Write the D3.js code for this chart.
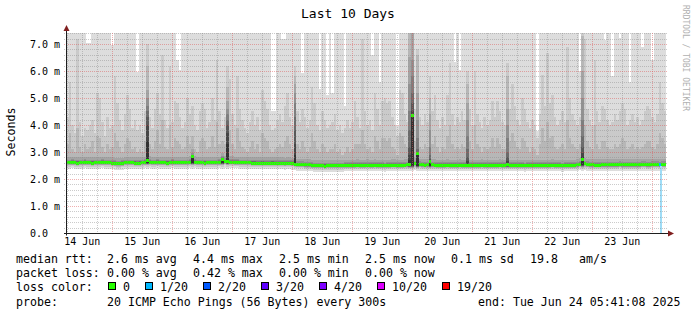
<!DOCTYPE html>
<html>
<head>
<meta charset="utf-8">
<script src="https://cdn.jsdelivr.net/npm/d3@7"></script>
<style>
  body { margin: 0; background: #fff; }
  svg { display: block; }
  text { font-family: "DejaVu Sans Mono", monospace; fill: #000; }
</style>
</head>
<body>
<div id="chart"></div>
<script>
// time window of the graph (10 days, hourly consolidated rows)
const startTime = new Date(2025, 5, 14, 5, 41, 8);
const endTime = new Date(2025, 5, 24, 5, 41, 8);

// median rtt per hour, ms
const medianRtt = [
  2.6,2.6,2.61,2.6,2.59,2.6,2.6,2.61,2.6,2.6,2.59,2.6,2.6,2.6,2.61,2.6,2.6,2.6,2.58,2.57,2.56,2.56,2.57,2.6,
  2.6,2.6,2.6,2.59,2.58,2.59,2.6,2.61,2.67,2.62,2.6,2.6,2.61,2.6,2.6,2.6,2.59,2.6,2.61,2.6,2.6,2.6,2.6,2.6,
  2.6,2.62,2.83,2.62,2.6,2.6,2.6,2.59,2.6,2.6,2.6,2.6,2.6,2.61,2.71,2.64,2.63,2.62,2.62,2.61,2.61,2.6,2.6,2.6,
  2.6,2.6,2.59,2.59,2.58,2.58,2.59,2.58,2.58,2.58,2.59,2.58,2.58,2.58,2.58,2.57,2.58,2.58,2.57,2.54,2.53,2.53,2.53,2.52,
  2.52,2.52,2.5,2.49,2.49,2.49,2.49,2.48,2.49,2.49,2.49,2.49,2.49,2.49,2.49,2.5,2.5,2.5,2.5,2.5,2.51,2.5,2.5,2.5,
  2.51,2.5,2.5,2.51,2.5,2.5,2.5,2.49,2.5,2.5,2.51,2.51,2.5,2.5,2.5,2.51,2.52,2.55,4.36,2.56,2.93,2.53,2.52,2.51,
  2.52,2.63,2.52,2.51,2.5,2.5,2.5,2.5,2.51,2.5,2.5,2.5,2.5,2.51,2.5,2.5,2.51,2.5,2.5,2.5,2.5,2.5,2.51,2.5,
  2.5,2.5,2.5,2.5,2.5,2.51,2.5,2.5,2.52,2.5,2.5,2.5,2.5,2.5,2.5,2.49,2.5,2.5,2.5,2.5,2.5,2.5,2.5,2.5,
  2.5,2.5,2.51,2.5,2.5,2.5,2.49,2.5,2.5,2.5,2.5,2.5,2.52,2.55,2.72,2.56,2.53,2.52,2.52,2.51,2.51,2.51,2.52,2.52,
  2.52,2.52,2.52,2.52,2.52,2.53,2.52,2.52,2.52,2.52,2.52,2.52,2.52,2.52,2.53,2.53,2.52,2.52,2.53,2.53,2.53,2.52,2.53,2.53
];

// 19th of 20 sorted pings per hour, ms
const ping19 = [
  4.3,5.6,4.0,3.7,7.2,4.1,3.6,3.9,3.8,4.0,4.2,3.7,5.2,5.0,4.1,3.6,4.3,3.9,4.0,5.8,4.8,4.2,3.8,4.4,
  5.1,4.6,3.9,4.2,3.8,4.0,3.7,4.5,7.0,4.3,3.9,4.6,5.2,4.4,6.6,4.2,3.9,6.2,4.1,4.9,4.8,4.3,3.9,4.1,
  5.0,4.4,4.7,4.0,3.8,4.5,4.8,4.6,3.9,4.1,5.0,4.2,6.4,4.5,3.9,4.3,6.2,5.7,4.4,4.0,5.8,4.6,4.2,3.9,
  3.7,4.1,4.5,4.0,4.3,3.8,5.3,4.9,4.6,4.0,3.8,3.9,4.2,4.4,4.1,4.7,5.2,4.3,4.0,6.2,4.5,4.1,4.6,4.3,
  3.9,4.2,5.4,4.8,4.0,3.8,4.5,4.2,3.9,4.0,4.1,4.4,3.8,4.0,3.7,3.9,4.2,3.9,4.1,4.9,4.3,3.9,7.2,4.5,
  4.0,4.2,3.8,5.2,4.6,4.0,4.9,5.0,4.8,4.9,4.3,4.0,3.6,5.3,5.2,4.4,4.1,7.5,7.5,4.6,6.8,4.3,4.0,4.4,
  4.1,5.8,4.5,5.1,4.2,3.9,4.3,4.0,5.1,6.3,4.4,4.0,4.3,4.1,4.5,4.2,6.0,4.6,4.0,6.0,4.4,4.1,3.9,4.3,
  4.0,4.2,4.9,4.3,4.9,4.5,4.1,4.0,6.3,4.6,5.5,4.7,4.2,4.0,5.0,4.6,4.1,3.9,4.2,4.0,3.5,4.4,5.85,4.7,
  6.65,4.8,5.1,4.3,4.0,4.2,4.5,4.1,6.9,5.0,4.4,4.2,4.0,4.3,7.5,7.2,4.6,4.2,4.0,6.4,4.5,4.1,4.7,4.6,
  4.2,4.0,4.1,4.4,4.2,4.5,4.8,4.6,4.0,4.2,4.4,4.1,4.3,4.0,4.2,4.5,4.7,4.6,4.3,4.1,4.4,5.6,4.8,4.5
];

// 18th of 20 sorted pings per hour, ms
const ping18 = [
  3.3,3.7,3.1,3.0,3.9,3.2,3.0,3.3,3.1,3.2,3.4,3.0,3.6,3.5,3.2,3.0,3.3,3.1,3.2,3.7,3.4,3.2,3.0,3.3,
  3.5,3.4,3.1,3.2,3.0,3.1,3.0,3.4,6.2,3.3,3.1,3.4,3.8,3.3,4.2,3.2,3.1,4.0,3.2,3.5,3.4,3.3,3.1,3.2,
  3.6,3.3,3.6,3.1,3.0,3.4,3.5,3.4,3.1,3.2,3.6,3.2,4.1,3.3,3.4,3.3,5.4,3.8,3.3,3.1,3.9,3.4,3.2,3.1,
  3.0,3.2,3.4,3.1,3.3,3.0,3.7,3.5,3.4,3.1,3.0,3.1,3.2,3.3,3.2,3.4,3.6,3.3,3.1,5.8,3.3,3.1,3.4,3.2,
  3.0,3.2,3.7,3.4,3.1,3.0,3.3,3.2,3.0,3.1,3.1,3.3,3.0,3.1,2.9,3.0,3.2,3.0,3.1,3.3,3.3,3.3,3.8,3.3,
  3.1,3.2,3.0,3.6,3.4,3.1,3.5,3.5,3.4,3.5,3.2,3.1,2.9,3.7,3.6,3.3,3.2,7.5,7.5,3.4,6.6,3.2,3.1,3.3,
  3.2,5.0,3.3,3.6,3.2,3.0,3.2,3.1,3.6,4.0,3.3,3.1,3.2,3.1,3.3,3.2,5.5,3.4,3.1,4.0,3.3,3.2,3.0,3.2,
  3.1,3.2,3.5,3.2,3.5,3.3,3.1,3.1,5.8,3.4,3.7,3.4,3.2,3.1,3.5,3.4,3.2,3.0,3.2,3.1,2.9,3.3,3.9,3.4,
  4.1,3.5,3.6,3.2,3.1,3.2,3.3,3.1,4.2,3.5,3.3,3.2,3.1,3.3,7.3,4.0,3.4,3.2,3.1,4.0,3.3,3.1,3.4,3.4,
  3.2,3.1,3.1,3.3,3.2,3.3,3.5,3.4,3.1,3.2,3.3,3.1,3.2,3.1,3.2,3.3,3.4,3.4,3.2,3.1,3.3,3.7,3.5,3.3
];

// hours where the slowest ping stayed below the top of the scale (else off scale)
const maxGapHours = [8, 9, 18, 28, 44, 45, 82, 83, 86, 87, 94, 101, 104, 106, 111, 122, 125, 132, 155, 157, 188, 205, 215, 218, 221, 225, 230, 234];
const maxGapTops  = [7.05, 7.05, 6.96, 5.97, 6.4, 6.04, 4.5, 4.5, 7.2, 7.2, 5.92, 5.35, 5.1, 5.2, 4.7, 6.6, 5.6, 3.95, 6.35, 6.05, 3.77, 6.0, 7.15, 5.8, 7.22, 5.6, 6.9, 6.4];
const offScale = 8;

// inner pings (17th..11th) above the median, and pings 1..10 below it, ms
const innerAbove = [0.22, 0.12, 0.08, 0.06, 0.04, 0.03, 0.02];
const belowBase = [0.22, 0.14, 0.1, 0.08, 0.06, 0.05, 0.04, 0.03, 0.02, 0.01];

// hours with a burst of slow pings: inner pings 17th..11th
const spikeHours = [32, 50, 62, 64, 91, 137, 138, 140, 145, 160, 176, 206];
const spikeBase  = [2.6, 2.6, 2.6, 2.6, 2.55, 2.5, 2.5, 2.5, 2.5, 2.5, 2.5, 2.52];
const spikeTops = [
  [5.3, 5.0, 4.7, 4.5, 4.3, 4.0, 3.4],
  [3.1, 2.95, 2.9, 2.88, 2.86, 2.85, 2.84],
  [2.95, 2.85, 2.8, 2.78, 2.76, 2.74, 2.72],
  [4.9, 4.6, 4.4, 4.2, 4.0, 3.7, 3.3],
  [5.5, 5.2, 4.8, 4.3, 3.8, 3.3, 2.9],
  [6.5, 5.5, 4.5, 3.8, 3.2, 2.9, 2.7],
  [7.5, 6.4, 5.8, 5.2, 4.8, 4.5, 4.4],
  [5.2, 4.2, 3.5, 3.1, 3.0, 2.97, 2.95],
  [4.4, 3.8, 3.2, 2.9, 2.75, 2.68, 2.64],
  [4.8, 4.2, 3.6, 3.1, 2.8, 2.65, 2.55],
  [4.6, 4.0, 3.5, 3.0, 2.8, 2.65, 2.55],
  [6.0, 5.0, 4.2, 3.6, 3.2, 2.95, 2.8]
];

// packet loss
const lossHours = [237];
const lossIndex = [1];

// smoke greys, outer to inner band
const smokeGreys = [221, 202, 183, 164, 145, 126, 107, 88, 69, 50];

// axes
const yTicks = [0, 1, 2, 3, 4, 5, 6, 7];
const yTickLabels = ["0.0", "1.0 m", "2.0 m", "3.0 m", "4.0 m", "5.0 m", "6.0 m", "7.0 m"];
const xTickDays = ["14 Jun", "15 Jun", "16 Jun", "17 Jun", "18 Jun", "19 Jun", "20 Jun", "21 Jun", "22 Jun", "23 Jun"];

// legend
const rowLabels = ["median rtt:", "packet loss:", "loss color:", "probe:"];
const rttStats = ["2.6 ms avg", "4.4 ms max", "2.5 ms min", "2.5 ms now", "0.1 ms sd"];
const rttExtra = ["19.8", "am/s"];
const lossStats = ["0.00 % avg", "0.42 % max", "0.00 % min", "0.00 % now"];
const lossLevels = ["0", "1/20", "2/20", "3/20", "4/20", "10/20", "19/20"];
const lossColors = ["#26ff00", "#00b8ff", "#0059ff", "#5e00ff", "#7e00ff", "#dd00ff", "#ff0000"];
const probeText = "20 ICMP Echo Pings (56 Bytes) every 300s";
const endText = "end: Tue Jun 24 05:41:08 2025";

const W = 697, H = 315;
const plot = { left: 66, top: 33, width: 600, height: 200 };

const svg = d3.select("#chart").append("svg")
  .attr("width", W).attr("height", H);

svg.append("rect").attr("width", W).attr("height", H).attr("fill", "#fff");

const x = d3.scaleTime()
  .domain([startTime, endTime])
  .range([plot.left, plot.left + plot.width]);

const y = d3.scaleLinear()
  .domain([0, 7.407])
  .range([plot.top + plot.height, plot.top]);

svg.append("clipPath").attr("id", "plotclip")
  .append("rect")
  .attr("x", plot.left).attr("y", plot.top)
  .attr("width", plot.width).attr("height", plot.height);

// build per hour columns
const cols = medianRtt.map((m, i) => {
  const k = spikeHours.indexOf(i);
  const g = maxGapHours.indexOf(i);
  const base = k >= 0 ? spikeBase[k] : m;
  const inner = k >= 0 ? spikeTops[k] : innerAbove.map(d => m + d);
  return {
    i, m, base,
    x0: Math.round(x(d3.timeHour.offset(startTime, i))),
    x1: Math.round(x(d3.timeHour.offset(startTime, i + 1))),
    tops: [g >= 0 ? maxGapTops[g] : offScale, ping19[i], ping18[i], ...inner]
  };
});

const smoke = svg.append("g")
  .attr("clip-path", "url(#plotclip)")
  .attr("shape-rendering", "crispEdges");

smokeGreys.forEach((grey, b) => {
  smoke.append("g")
    .attr("fill", `rgb(${grey},${grey},${grey})`)
    .selectAll("rect")
    .data(cols)
    .join("rect")
    .attr("x", d => d.x0)
    .attr("width", d => d.x1 - d.x0)
    .attr("y", d => Math.round(y(d.tops[b])))
    .attr("height", d => Math.max(0, Math.round(y(d.base - belowBase[b])) - Math.round(y(d.tops[b]))));
});

// loss bar
smoke.selectAll(".lossbar")
  .data(lossHours)
  .join("rect")
  .attr("class", "lossbar")
  .attr("x", d => cols[d].x0 + 1)
  .attr("width", 2)
  .attr("y", d => Math.round(y(cols[d].m)))
  .attr("height", d => Math.round(y(0)) - Math.round(y(cols[d].m)))
  .attr("fill", "#9edcf6");

// median line coloured by loss
smoke.append("g")
  .selectAll("rect")
  .data(cols)
  .join("rect")
  .attr("x", d => d.x0)
  .attr("width", d => d.x1 - d.x0)
  .attr("y", d => Math.round(y(d.m) - 1.5))
  .attr("height", 3)
  .attr("fill", d => {
    const k = lossHours.indexOf(d.i);
    return lossColors[k >= 0 ? lossIndex[k] : 0];
  });

// grid on top
const grid = svg.append("g")
  .attr("stroke-dasharray", "1,1")
  .attr("stroke-width", 1)
  .attr("shape-rendering", "crispEdges");
const yMinor = d3.range(1, 38).filter(d => d % 5 !== 0).map(d => d / 5);
const hy = d => Math.round(y(d)) + 0.5;
const vx = d => Math.round(x(d)) + 0.5;
const minorCol = "rgba(140,140,140,0.45)";
const majorCol = "rgba(222,79,79,0.45)";

grid.selectAll(".hmin").data(yMinor).join("line")
  .attr("x1", plot.left - 2).attr("x2", plot.left + plot.width + 2)
  .attr("y1", hy).attr("y2", hy)
  .attr("stroke", minorCol);

const sixHours = d3.timeHour.every(6).range(startTime, endTime).filter(d => d.getHours() !== 0);
grid.selectAll(".vmin").data(sixHours).join("line")
  .attr("x1", vx).attr("x2", vx)
  .attr("y1", plot.top).attr("y2", plot.top + plot.height + 2)
  .attr("stroke", minorCol);

grid.selectAll(".hmaj").data(yTicks.slice(1)).join("line")
  .attr("x1", plot.left - 2).attr("x2", plot.left + plot.width + 2)
  .attr("y1", hy).attr("y2", hy)
  .attr("stroke", majorCol);

const midnights = d3.timeDay.range(startTime, endTime);
grid.selectAll(".vmaj").data(midnights).join("line")
  .attr("x1", vx).attr("x2", vx)
  .attr("y1", plot.top).attr("y2", plot.top + plot.height + 2)
  .attr("stroke", majorCol);

// axis lines and arrows
const axisCol = "rgb(31,31,31)";
const arrowCol = "rgb(128,31,31)";
const x0 = plot.left + 0.5, yb = plot.top + plot.height + 0.5;
svg.append("line").attr("x1", plot.left - 2).attr("x2", plot.left + plot.width + 4)
  .attr("y1", yb).attr("y2", yb).attr("stroke", axisCol);
svg.append("line").attr("x1", x0).attr("x2", x0)
  .attr("y1", yb + 2).attr("y2", plot.top - 4).attr("stroke", axisCol);
svg.append("path")
  .attr("d", `M${plot.left + plot.width + 2},${yb - 3}L${plot.left + plot.width + 8},${yb}L${plot.left + plot.width + 2},${yb + 3}Z`)
  .attr("fill", arrowCol);
svg.append("path")
  .attr("d", `M${x0 - 3},${plot.top - 2}L${x0},${plot.top - 8}L${x0 + 3},${plot.top - 2}Z`)
  .attr("fill", arrowCol);

// y labels
svg.append("g")
  .attr("transform", "translate(30,0)")
  .call(d3.axisRight(y).tickValues(yTicks).tickFormat((d, i) => yTickLabels[i]).tickSize(0).tickPadding(0))
  .call(g => g.select(".domain").remove())
  .selectAll("text")
  .style("font-family", "DejaVu Sans Mono")
  .style("font-size", "10px")
  .attr("fill", "#000");

// x labels at noon of each day
const noonTicks = d3.timeDay.range(d3.timeDay.floor(startTime), endTime)
  .map(d => d3.timeHour.offset(d, 12))
  .filter(d => d >= startTime && d <= endTime);
svg.append("g")
  .attr("transform", `translate(0,${plot.top + plot.height + 3})`)
  .call(d3.axisBottom(x).tickValues(noonTicks).tickFormat((d, i) => xTickDays[i]).tickSize(0).tickPadding(2))
  .call(g => g.select(".domain").remove())
  .selectAll("text")
  .style("font-family", "DejaVu Sans Mono")
  .style("font-size", "10px")
  .attr("fill", "#000");

// title, axis title, watermark
svg.append("text").attr("x", 348).attr("y", 18)
  .attr("text-anchor", "middle").style("font-size", "13px")
  .text("Last 10 Days");

svg.append("text")
  .attr("transform", "translate(15,132) rotate(-90)")
  .attr("text-anchor", "middle").style("font-size", "11.6px")
  .text("Seconds");

svg.append("text")
  .attr("transform", "translate(683,5) rotate(90)")
  .style("font-size", "8px").style("fill", "#b0b0b0")
  .text("RRDTOOL / TOBI OETIKER");

// legend
const legend = svg.append("g").style("font-size", "11.6px");
const rowY = [263, 277, 291, 305.5];
const colX = [107, 193, 279, 365, 451];

rowLabels.forEach((t, r) => {
  legend.append("text").attr("x", 16).attr("y", rowY[r]).text(t);
});
rttStats.forEach((t, c) => legend.append("text").attr("x", colX[c]).attr("y", rowY[0]).text(t));
legend.append("text").attr("x", 530).attr("y", rowY[0]).text(rttExtra[0]);
legend.append("text").attr("x", 579).attr("y", rowY[0]).text(rttExtra[1]);
lossStats.forEach((t, c) => legend.append("text").attr("x", colX[c]).attr("y", rowY[1]).text(t));

let bx = 108;
lossLevels.forEach((t, i) => {
  legend.append("rect")
    .attr("x", bx + 0.5).attr("y", rowY[2] - 8.5)
    .attr("width", 7).attr("height", 7)
    .attr("fill", lossColors[i]).attr("stroke", "#000");
  legend.append("text").attr("x", bx + 15).attr("y", rowY[2]).text(t);
  bx += 15 + t.length * 7 + 15;
});

legend.append("text").attr("x", 107).attr("y", rowY[3]).text(probeText);
legend.append("text").attr("x", 478).attr("y", rowY[3]).text(endText);
</script>
</body>
</html>
